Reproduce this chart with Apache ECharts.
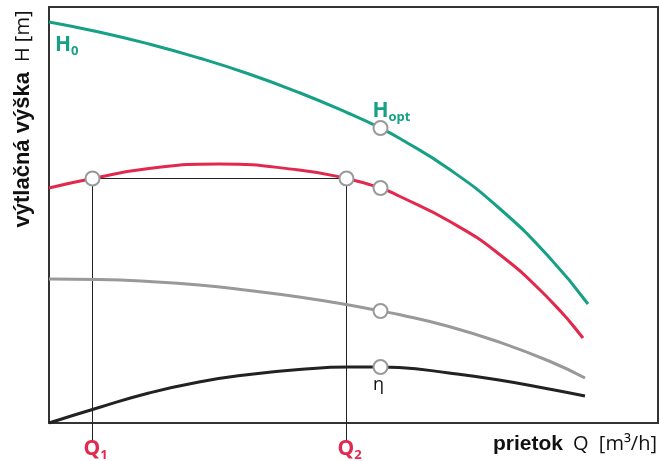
<!DOCTYPE html>
<html>
<head>
<meta charset="utf-8">
<title>Charakteristika čerpadla</title>
<script src="https://cdn.jsdelivr.net/npm/echarts@6/dist/echarts.min.js"></script>
<style>
  html, body { margin: 0; padding: 0; background: #fff; }
  #chart { width: 660px; height: 461px; }
</style>
</head>
<body>
<div id="chart"></div>
<script>
// Pump curves: [flow Q, head H] in relative units
const headCurveH0 = [
  [0, 40.1], [5, 39.1], [10, 37.9], [15, 36.5], [20, 34.9], [25, 33.05],
  [30, 30.95], [33.15, 29.5], [35, 28.5], [40, 25.4], [45, 21.5], [50, 16.6], [53.9, 11.9]
];
const headCurveRed = [
  [0, 23.5], [4.35, 24.45], [10, 25.45], [17, 25.9], [25, 25.3],
  [29.75, 24.45], [33.15, 23.5], [35, 22.7], [40, 20.2], [45, 16.9], [50, 12.4], [53.4, 8.5]
];
const headCurveGray = [
  [0, 14.4], [5, 14.35], [10, 14.15], [15, 13.8], [20, 13.25], [25, 12.6],
  [30, 11.8], [33.15, 11.2], [35, 10.85], [40, 9.65], [45, 8.1], [50, 6.2], [53.6, 4.5]
];
const efficiencyCurve = [
  [0, 0], [5, 1.55], [10, 3.0], [15, 4.1], [20, 4.85], [25, 5.35],
  [30, 5.6], [33.15, 5.6], [35, 5.55], [40, 5.0], [45, 4.3], [50, 3.4], [53.6, 2.7]
];

// Operating points
const q1 = 4.35;
const q2 = 29.75;
const qOpt = 33.15;
const hQ1Q2 = 24.45;
const markerPoints = [
  [q1, hQ1Q2], [q2, hQ1Q2], [qOpt, 23.5], [qOpt, 29.5], [qOpt, 11.2], [qOpt, 5.6]
];
const axisRange = { qMax: 60.9, hMax: 41.6, guideBottom: -1.9 };

const TEAL = '#16a085';
const RED = '#e2284c';
const GRAY = '#999999';
const DARK = '#222222';

const chart = echarts.init(document.getElementById('chart'));

function curve(name, data, color) {
  return {
    name: name, type: 'line', data: data, smooth: 0.5,
    showSymbol: false, silent: true, z: 3,
    lineStyle: { color: color, width: 3 }
  };
}

// Main letter sits at the top of the line box, the index at its bottom,
// which drops the index slightly below the letter's baseline.
const subRich = (color) => ({
  m: { fontFamily: 'Open Sans', fontWeight: 'bold', fontSize: 21, color: color,
       verticalAlign: 'top', lineHeight: 23 },
  s: { fontFamily: 'Open Sans', fontWeight: 'bold', fontSize: 13, color: color,
       verticalAlign: 'bottom', lineHeight: 23 }
});

chart.setOption({
  animation: false,
  grid: {
    left: 49, right: 2, top: 7, bottom: 38,
    show: true, borderColor: '#333', borderWidth: 2, backgroundColor: 'transparent'
  },
  xAxis: {
    type: 'value', min: 0, max: axisRange.qMax,
    axisLine: { show: false }, axisTick: { show: false },
    axisLabel: { show: false }, splitLine: { show: false }
  },
  yAxis: {
    type: 'value', min: 0, max: axisRange.hMax,
    axisLine: { show: false }, axisTick: { show: false },
    axisLabel: { show: false }, splitLine: { show: false }
  },
  series: [
    {
      name: 'guide', type: 'line', silent: true, clip: false, z: 1,
      showSymbol: false,
      data: [[q1, axisRange.guideBottom], [q1, hQ1Q2], [q2, hQ1Q2], [q2, axisRange.guideBottom]],
      lineStyle: { color: '#222', width: 1 }
    },
    curve('H0', headCurveH0, TEAL),
    curve('H', headCurveRed, RED),
    curve('H2', headCurveGray, GRAY),
    curve('η', efficiencyCurve, DARK),
    {
      name: 'H0 label', type: 'scatter', symbolSize: 0, silent: true, z: 6,
      itemStyle: { opacity: 1 },
      data: [headCurveH0[0]],
      label: {
        show: true, position: 'bottom', align: 'left', offset: [6, 8],
        formatter: '{m|H}{s|0}', rich: subRich(TEAL)
      }
    },
    {
      name: 'points', type: 'scatter', silent: true, z: 5,
      symbol: 'circle', symbolSize: 14,
      itemStyle: { color: '#fff', borderColor: GRAY, borderWidth: 2, opacity: 1 },
      data: markerPoints.map((p, i) => {
        const item = { value: p };
        if (i === 3) {
          item.label = { show: true, position: 'top', align: 'left', offset: [-8, 9],
                         formatter: '{m|H}{s|opt}', rich: subRich(TEAL) };
        }
        if (i === 5) {
          item.label = { show: true, position: 'bottom', offset: [-2, -4],
                         formatter: 'η', fontFamily: 'Open Sans', fontSize: 18, color: '#111' };
        }
        return item;
      })
    },
    {
      name: 'Q labels', type: 'scatter', symbolSize: 0, silent: true, clip: false, z: 6,
      itemStyle: { opacity: 1 },
      data: [
        { value: [q1, axisRange.guideBottom], label: { formatter: '{m|Q}{s|1}' } },
        { value: [q2, axisRange.guideBottom], label: { formatter: '{m|Q}{s|2}' } }
      ],
      label: { show: true, position: 'bottom', offset: [3, -8], rich: subRich(RED) }
    }
  ],
  graphic: [
    {
      type: 'text', x: 23, y: 119, rotation: Math.PI / 2,
      style: {
        text: '{a|výtlačná výška}   {b|H [m]}',
        align: 'center', verticalAlign: 'middle',
        rich: {
          a: { fontFamily: 'Liberation Sans', fontWeight: 'bold', fontSize: 22, fill: '#111' },
          b: { fontFamily: 'Open Sans', fontSize: 20, fill: '#111' }
        }
      }
    },
    {
      type: 'text', right: 3, top: 434,
      style: {
        text: '{a|prietok}   {b|Q  [m³/h]}',
        rich: {
          a: { fontFamily: 'Liberation Sans', fontWeight: 'bold', fontSize: 21, fill: '#111' },
          b: { fontFamily: 'Open Sans', fontSize: 20, fill: '#111' }
        }
      }
    }
  ]
});
</script>
</body>
</html>
